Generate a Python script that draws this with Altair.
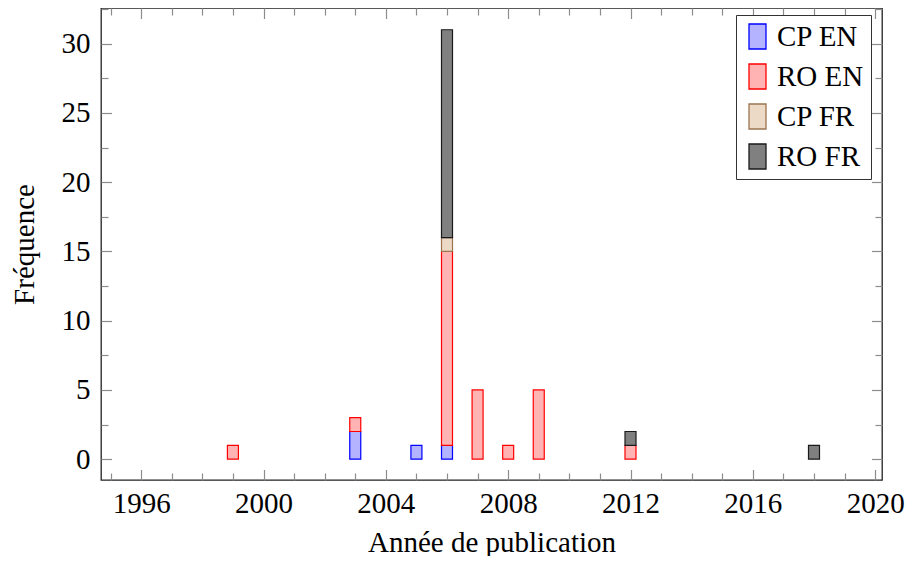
import altair as alt
import pandas as pd

years = [1999, 2003, 2005, 2006, 2007, 2008, 2009, 2012, 2018]
series = ["CP EN", "RO EN", "CP FR", "RO FR"]
cp_en = [0, 2, 1, 1, 0, 0, 0, 0, 0]
ro_en = [1, 1, 0, 14, 5, 1, 5, 1, 0]
cp_fr = [0, 0, 0, 1, 0, 0, 0, 0, 0]
ro_fr = [0, 0, 0, 15, 0, 0, 0, 1, 1]

fill_colors = ["#b3b3ff", "#ffb3b3", "#ecd9c6", "#808080"]
stroke_colors = ["#0000ff", "#ff0000", "#9c7450", "#1a1a1a"]

x_major = [1996, 2000, 2004, 2008, 2012, 2016, 2020]
x_minor = [1995, 1997, 1998, 1999, 2001, 2002, 2003, 2005, 2006, 2007, 2009,
           2010, 2011, 2013, 2014, 2015, 2017, 2018, 2019]
y_major = [0, 5, 10, 15, 20, 25, 30]
y_minor = [2.5, 7.5, 12.5, 17.5, 22.5, 27.5, 32.5]

rows = []
for i, (name, vals) in enumerate(zip(series, [cp_en, ro_en, cp_fr, ro_fr])):
    for yr, v in zip(years, vals):
        if v > 0:
            rows.append({"year": yr, "series": name, "count": v, "order": i})
df = pd.DataFrame(rows)

FONT = "Liberation Serif"
FS = 29
TICK_COLOR = "#8c8c8c"
W, H = 781, 472

xs = alt.Scale(domain=[1994.85, 2020.06], nice=False, zero=False)
ys = alt.Scale(domain=[-1.5, 32.57], nice=False, zero=False)

legend = alt.Legend(
    title=None, orient="none", legendX=635, legendY=7,
    fillColor="white", strokeColor="#333333", padding=7,
    labelFont=FONT, labelFontSize=FS, labelColor="black",
    symbolType="M-0.68,-1H0.68V1H-0.68Z", symbolSize=625,
    symbolStrokeWidth=1.3, labelOffset=5, rowPadding=9,
)

base = alt.Chart(df)

bars = base.mark_bar(size=11, strokeWidth=1.2, fillOpacity=1).encode(
    x=alt.X("year:Q", scale=xs, axis=alt.Axis(
        orient="bottom", values=x_major, format="d", ticks=False, tickSize=0,
        domain=False, grid=False, labelFlush=False, labelOverlap=False,
        labelBaseline="alphabetic", labelPadding=32,
        title="Année de publication", titleX=W / 2, titleY=71,
        titleBaseline="alphabetic", titleAlign="center")),
    y=alt.Y("count:Q", stack="zero", scale=ys, axis=alt.Axis(
        orient="left", values=y_major, ticks=False, tickSize=0, domain=False,
        grid=False, labelPadding=11, labelOverlap=False,
        title="Fréquence", titleX=-68, titleY=H / 2, titleAngle=270,
        titleBaseline="alphabetic", titleAlign="center")),
    fill=alt.Fill("series:N", scale=alt.Scale(domain=series, range=fill_colors), legend=legend),
    stroke=alt.Stroke("series:N", scale=alt.Scale(domain=series, range=stroke_colors), legend=legend),
    order=alt.Order("order:Q"),
)


def tick_layer(xorient, yorient, xvals, yvals, size):
    return base.mark_bar(opacity=0).encode(
        x=alt.X("year:Q", scale=xs, axis=alt.Axis(
            orient=xorient, values=xvals, labels=False, domain=False, grid=False,
            ticks=True, tickSize=size, tickColor=TICK_COLOR, tickWidth=1.2,
            offset=-size, title=None)),
        y=alt.Y("count:Q", stack="zero", scale=ys, axis=alt.Axis(
            orient=yorient, values=yvals, labels=False, domain=False, grid=False,
            ticks=True, tickSize=size, tickColor=TICK_COLOR, tickWidth=1.2,
            offset=-size, title=None)),
    )


chart = alt.layer(
    bars,
    tick_layer("bottom", "left", x_major, y_major, 10.5),
    tick_layer("bottom", "left", x_minor, y_minor, 7),
    tick_layer("top", "right", x_major, y_major, 10.5),
    tick_layer("top", "right", x_minor, y_minor, 7),
).resolve_axis(
    x="independent", y="independent"
).properties(
    width=W, height=H,
    padding={"left": 93, "top": 0, "right": 30, "bottom": 76},
    autosize=alt.AutoSizeParams(type="none"),
).configure_axis(
    labelFont=FONT, labelFontSize=FS, labelColor="black",
    titleFont=FONT, titleFontSize=FS, titleColor="black", titleFontWeight="normal",
).configure_view(
    stroke="#222222", strokeWidth=1.3,
)

chart.save("out.html", embed_options={"renderer": "svg", "actions": False})
